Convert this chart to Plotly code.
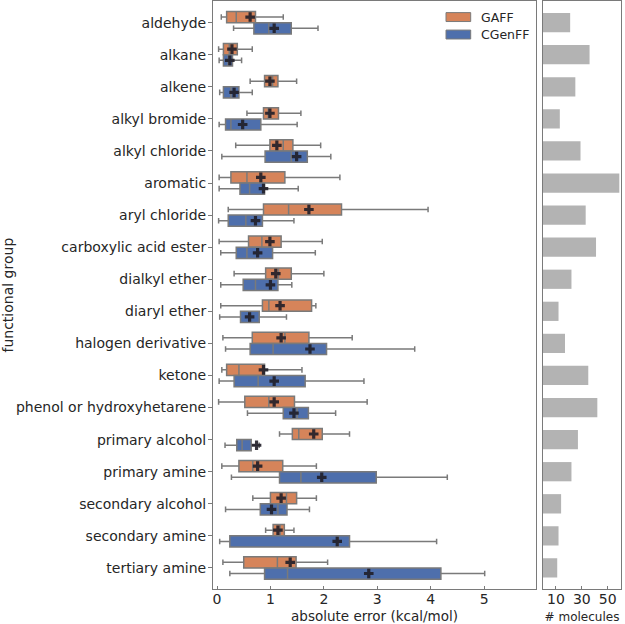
import plotly.graph_objects as go

groups = ["aldehyde", "alkane", "alkene", "alkyl bromide", "alkyl chloride", "aromatic",
          "aryl chloride", "carboxylic acid ester", "dialkyl ether", "diaryl ether",
          "halogen derivative", "ketone", "phenol or hydroxyhetarene", "primary alcohol",
          "primary amine", "secondary alcohol", "secondary amine", "tertiary amine"]

# GAFF statistics (kcal/mol)
gaff_low  = [0.08, 0.03, 0.62, 0.56, 0.35, 0.04, 0.21, 0.04, 0.32, 0.07, 0.11, 0.09, 0.03, 1.17, 0.09, 0.67, 0.91, 0.11]
gaff_q1   = [0.18, 0.12, 0.89, 0.87, 0.99, 0.26, 0.87, 0.59, 0.91, 0.85, 0.66, 0.18, 0.52, 1.41, 0.41, 1.00, 1.05, 0.50]
gaff_med  = [0.36, 0.23, 1.04, 0.96, 1.24, 0.56, 1.34, 0.84, 1.15, 0.97, 1.27, 0.41, 0.97, 1.53, 0.67, 1.30, 1.18, 1.13]
gaff_q3   = [0.72, 0.38, 1.14, 1.15, 1.42, 1.27, 2.33, 1.20, 1.39, 1.77, 1.72, 0.89, 1.45, 1.97, 1.23, 1.49, 1.26, 1.48]
gaff_high = [1.24, 0.66, 1.49, 1.57, 1.94, 2.30, 3.95, 1.97, 2.00, 1.85, 2.53, 1.59, 2.81, 2.48, 1.86, 1.86, 1.44, 2.07]
gaff_mean = [0.62, 0.28, 0.99, 0.99, 1.12, 0.82, 1.72, 0.99, 1.10, 1.18, 1.20, 0.87, 1.07, 1.81, 0.76, 1.20, 1.14, 1.37]

# CGenFF statistics (kcal/mol)
cg_low  = [0.31, 0.04, 0.05, 0.04, 0.09, 0.04, 0.03, 0.07, 0.07, 0.05, 0.16, 0.04, 0.57, 0.15, 0.27, 0.16, 0.05, 0.24]
cg_q1   = [0.69, 0.12, 0.12, 0.16, 0.90, 0.43, 0.21, 0.36, 0.49, 0.44, 0.62, 0.32, 1.24, 0.37, 1.17, 0.81, 0.24, 0.89]
cg_med  = [0.97, 0.21, 0.26, 0.26, 1.39, 0.61, 0.54, 0.56, 0.72, 0.61, 1.05, 0.77, 1.50, 0.47, 1.57, 1.14, 2.27, 1.32]
cg_q3   = [1.39, 0.29, 0.41, 0.82, 1.69, 0.89, 0.85, 1.04, 1.14, 0.79, 2.05, 1.65, 1.71, 0.64, 2.98, 1.31, 2.48, 4.19]
cg_high = [1.89, 0.46, 0.66, 1.50, 2.13, 1.52, 1.44, 1.84, 1.40, 1.30, 3.70, 2.75, 2.22, 0.79, 4.31, 1.73, 4.11, 5.01]
cg_mean = [1.07, 0.24, 0.32, 0.48, 1.49, 0.87, 0.72, 0.76, 1.00, 0.61, 1.74, 1.07, 1.44, 0.74, 1.96, 1.02, 2.25, 2.84]

n_molecules = [21, 36, 25, 13, 29, 59, 33, 41, 22, 12, 17, 35, 42, 27, 22, 14, 12, 11]

x_ticks = [0, 1, 2, 3, 4, 5]
bar_ticks = [10, 30, 50]
series_names = ["GAFF", "CGenFF"]

GAFF_COL = "#D6845A"
CG_COL = "#4E6FAC"
EDGE = "#7a7a7a"
TXT = "#262626"
FONT = "DejaVu Sans"
W, H = 625, 624

idx = list(range(len(groups)))
half = 0.175
pos_g = [i - half for i in idx]
pos_c = [i + half for i in idx]

fig = go.Figure()

for name, pos, lo, q1, med, q3, hi, col in [
    (series_names[0], pos_g, gaff_low, gaff_q1, gaff_med, gaff_q3, gaff_high, GAFF_COL),
    (series_names[1], pos_c, cg_low, cg_q1, cg_med, cg_q3, cg_high, CG_COL),
]:
    fig.add_trace(go.Box(
        name=name, orientation="h", y=pos,
        lowerfence=lo, q1=q1, median=med, q3=q3, upperfence=hi,
        fillcolor=col, line=dict(color=EDGE, width=1.5),
        width=2 * half, whiskerwidth=0.5, boxpoints=False, showlegend=False,
        xaxis="x", yaxis="y", hoverinfo="skip",
    ))

for pos, mean in [(pos_g, gaff_mean), (pos_c, cg_mean)]:
    fig.add_trace(go.Scatter(
        x=mean, y=pos, mode="markers", showlegend=False,
        marker=dict(symbol="cross", size=8, color="rgba(32,30,40,0.9)", line=dict(width=0)),
        xaxis="x", yaxis="y", hoverinfo="skip",
    ))

fig.add_trace(go.Bar(
    x=n_molecules, y=idx, orientation="h", width=0.6,
    marker=dict(color="#b3b3b3", line=dict(width=0)),
    showlegend=False, xaxis="x2", yaxis="y2", hoverinfo="skip",
))

y_top = 1 - 0.5 / H
y_bot = 1 - 592.5 / H

axis_common = dict(showline=True, mirror=True, linecolor=EDGE, linewidth=1,
                   showgrid=False, zeroline=False,
                   tickfont=dict(family=FONT, size=14, color=TXT))

# legend drawn as swatches + labels (matplotlib-style wide patches)
shapes = []
annotations = []
for k, (name, col) in enumerate(zip(series_names, [GAFF_COL, CG_COL])):
    top = 11.7 + k * 17.6
    shapes.append(dict(type="rect", xref="paper", yref="paper",
                       x0=446 / W, x1=470.7 / W, y0=1 - (top + 9) / H, y1=1 - top / H,
                       fillcolor=col, line=dict(color=EDGE, width=1)))
    annotations.append(dict(text=name, xref="paper", yref="paper",
                            x=479 / W, y=1 - (top + 4.5) / H, xanchor="left", yanchor="middle",
                            showarrow=False, font=dict(family=FONT, size=12.5, color=TXT)))

fig.update_layout(
    width=W, height=H,
    margin=dict(l=0, r=0, t=0, b=0),
    paper_bgcolor="white", plot_bgcolor="white",
    boxmode="overlay",
    showlegend=False,
    font=dict(family=FONT, color=TXT),
    shapes=shapes, annotations=annotations,
    xaxis=dict(domain=[213 / W, 536 / W], range=[-0.075, 5.97],
               tickvals=x_ticks, ticks="inside", ticklen=3, tickcolor=EDGE,
               ticklabelstandoff=-3,
               title=dict(text="absolute error (kcal/mol)", font=dict(family=FONT, size=13.5, color=TXT), standoff=8),
               anchor="y", **axis_common),
    yaxis=dict(domain=[y_bot, y_top], range=[17.65, -0.66],
               tickvals=idx, ticktext=groups, ticks="outside", ticklen=4, tickcolor=EDGE,
               ticklabelstandoff=-1,
               title=dict(text="functional group", font=dict(family=FONT, size=14, color=TXT), standoff=3),
               anchor="x", **axis_common),
    xaxis2=dict(domain=[543 / W, 621 / W], range=[0, 60.3],
                tickvals=bar_ticks, ticks="inside", ticklen=3, tickcolor=EDGE,
                ticklabelstandoff=-3,
                title=dict(text="# molecules", font=dict(family=FONT, size=12, color=TXT), standoff=8),
                anchor="y2", **axis_common),
    yaxis2=dict(domain=[y_bot, y_top], matches="y", showticklabels=False, ticks="",
                anchor="x2", **axis_common),
)

fig.write_html("out.html", config={"displayModeBar": False},
               post_script="document.body.style.margin='0px';")
